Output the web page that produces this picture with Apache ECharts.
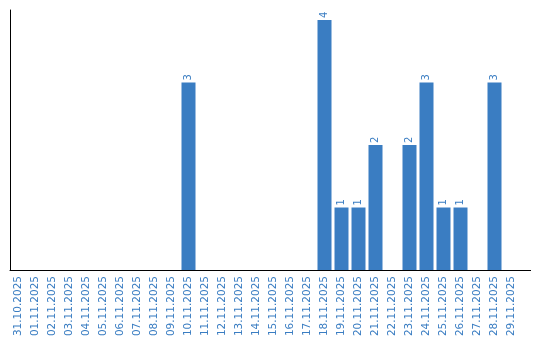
<!DOCTYPE html>
<html>
<head>
<meta charset="utf-8">
<script src="https://cdn.jsdelivr.net/npm/echarts@6/dist/echarts.min.js"></script>
<style>html,body{margin:0;padding:0;background:#fff}#c{width:540px;height:340px}</style>
</head>
<body>
<div id="c"></div>
<script>
var categories = ["31.10.2025","01.11.2025","02.11.2025","03.11.2025","04.11.2025","05.11.2025","06.11.2025","07.11.2025","08.11.2025","09.11.2025","10.11.2025","11.11.2025","12.11.2025","13.11.2025","14.11.2025","15.11.2025","16.11.2025","17.11.2025","18.11.2025","19.11.2025","20.11.2025","21.11.2025","22.11.2025","23.11.2025","24.11.2025","25.11.2025","26.11.2025","27.11.2025","28.11.2025","29.11.2025"];
var values = [0,0,0,0,0,0,0,0,0,0,3,0,0,0,0,0,0,0,4,1,1,2,0,2,3,1,1,0,3,0];
var blue = '#3a7dc2';
var chart = echarts.init(document.getElementById('c'));
chart.setOption({
  animation: false,
  grid: {left: 10, right: 20, top: 10, bottom: 70, containLabel: false},
  xAxis: {
    type: 'category', data: categories,
    axisLine: {lineStyle: {color: '#000', width: 1}},
    axisTick: {show: false},
    axisLabel: {rotate: 90, color: blue, fontFamily: 'DejaVu Sans', fontSize: 10.5, margin: 6, interval: 0}
  },
  yAxis: {
    type: 'value', min: 0, max: 4.16,
    axisLine: {show: true, lineStyle: {color: '#000', width: 1}},
    axisTick: {show: false}, axisLabel: {show: false}, splitLine: {show: false}
  },
  series: [{
    type: 'bar', data: values.map(function(v){ return v === 0 ? null : v; }), barWidth: 14,
    itemStyle: {color: blue},
    label: {show: true, position: 'top', rotate: 90, align: 'left', verticalAlign: 'middle', distance: 2,
      color: blue, fontFamily: 'DejaVu Sans', fontSize: 10}
  }],
  graphic: [{type: 'line', shape: {x1: 520, y1: 270.5, x2: 531, y2: 270.5}, style: {stroke: '#000', lineWidth: 1}}]
});
</script>
</body>
</html>
